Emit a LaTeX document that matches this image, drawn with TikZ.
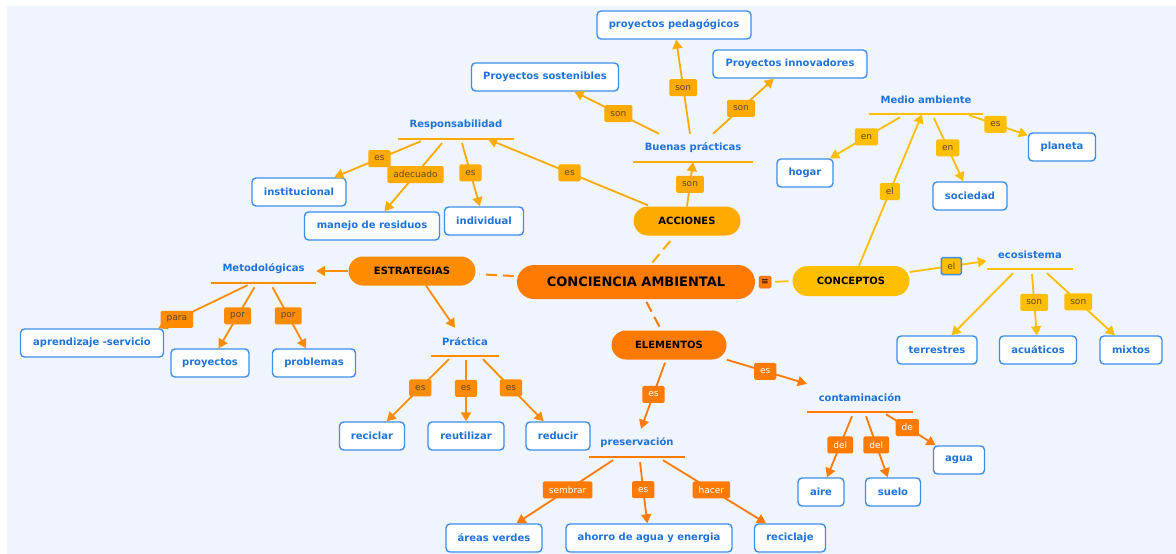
\documentclass[tikz,border=0pt]{standalone}
\usepackage{fontspec}
\setmainfont{DejaVu Sans}
\usetikzlibrary{arrows.meta}
\definecolor{bg}{HTML}{F0F4FD}
\definecolor{cblue}{HTML}{3D8EE8}
\definecolor{tblue}{HTML}{1F72D8}
\definecolor{cAcc}{HTML}{FFAA00}
\definecolor{cCon}{HTML}{FFBE00}
\definecolor{cEst}{HTML}{FF8C00}
\definecolor{cEle}{HTML}{FF7A00}
\definecolor{labtxt}{HTML}{5E4A28}
\tikzset{
  concept/.style={draw=cblue, line width=1.4pt, fill=white, rounded corners=4pt,
    font=\bfseries\fontsize{10}{12}\selectfont, text=tblue, minimum height=28pt, inner sep=2pt},
  header/.style={font=\bfseries\fontsize{10}{12}\selectfont, text=tblue, minimum height=28pt, inner sep=0pt},
  pill/.style={fill=#1, rounded corners=14.5pt, font=\bfseries\fontsize{10}{12}\selectfont,
    text=black, minimum height=29pt, inner sep=2pt},
  lab/.style={fill=#1, rounded corners=1.5pt, font=\fontsize{9}{10}\selectfont, text=labtxt,
    minimum height=17pt, inner xsep=6pt, inner ysep=0pt},
  wlab/.style={lab=#1, text=white},
  arr/.style={draw=#1, line width=1.8pt, -{Triangle[length=9pt,width=10pt]}},
  dashlink/.style={draw=#1, line width=2pt, dash pattern=on 11pt off 6pt, shorten <=3pt, shorten >=4pt},
  uline/.style={draw=#1, line width=1.6pt},
}
\begin{document}
\begin{tikzpicture}[x=1pt,y=-1pt]
\useasboundingbox (0,0) rectangle (1176,554);
\fill[white] (0,0) rectangle (1176,554);
\fill[bg] (7,6) rectangle (1176,554);

% main nodes
\node[pill=cEle, minimum width=238pt, minimum height=34pt, rounded corners=17pt,
      font=\bfseries\fontsize{13}{15}\selectfont] (cen) at (636,282) {CONCIENCIA AMBIENTAL};
\node[pill=cAcc, minimum width=107pt] (acc) at (687,221) {ACCIONES};
\node[pill=cEst, minimum width=127pt] (est) at (412,271) {ESTRATEGIAS};
\node[pill=cCon, minimum width=117pt, minimum height=30pt, rounded corners=15pt] (conc) at (851,281) {CONCEPTOS};
\node[pill=cEle, minimum width=115pt] (ele) at (669,345) {ELEMENTOS};
\node[fill=cEle, draw=cEle!85!black, line width=.5pt, rounded corners=1.5pt, minimum width=12pt,
      minimum height=12pt, inner sep=0pt, font=\fontsize{9}{9}\selectfont] (menu) at (765,282) {≡};

% headers
\node[header, minimum width=120pt] (buenas) at (693,148) {Buenas prácticas};
\node[header, minimum width=116pt] (resp) at (456,125) {Responsabilidad};
\node[header, minimum width=114pt] (medio) at (926,100) {Medio ambiente};
\node[header, minimum width=86pt] (ecosis) at (1030,255) {ecosistema};
\node[header, minimum width=105pt] (metod) at (263.5,269) {Metodológicas};
\node[header, minimum width=68pt] (practica) at (465,342) {Práctica};
\node[header, minimum width=95pt] (preserv) at (637,443) {preservación};
\node[header, minimum width=106pt] (contam) at (860,398) {contaminación};
\draw[uline=cAcc] (buenas.south west) -- (buenas.south east);
\draw[uline=cAcc] (resp.south west) -- (resp.south east);
\draw[uline=cCon] (medio.south west) -- (medio.south east);
\draw[uline=cCon] (ecosis.south west) -- (ecosis.south east);
\draw[uline=cEst] (metod.south west) -- (metod.south east);
\draw[uline=cEst] (practica.south west) -- (practica.south east);
\draw[uline=cEle] (preserv.south west) -- (preserv.south east);
\draw[uline=cEle] (contam.south west) -- (contam.south east);

% concept boxes
\node[concept, minimum width=154pt] (pedag) at (674,25) {proyectos pedagógicos};
\node[concept, minimum width=147pt] (sost) at (545,77) {Proyectos sostenibles};
\node[concept, minimum width=154pt] (innov) at (790,64) {Proyectos innovadores};
\node[concept, minimum width=94pt] (instit) at (299,192) {institucional};
\node[concept, minimum width=135pt] (manejo) at (372,226) {manejo de residuos};
\node[concept, minimum width=79pt] (indiv) at (484,221) {individual};
\node[concept, minimum width=56pt] (hogar) at (805,173) {hogar};
\node[concept, minimum width=74pt] (socie) at (970,196) {sociedad};
\node[concept, minimum width=67pt] (planeta) at (1062,147) {planeta};
\node[concept, minimum width=80pt] (terr) at (937,350) {terrestres};
\node[concept, minimum width=77pt] (acua) at (1038,350) {acuáticos};
\node[concept, minimum width=62pt] (mixtos) at (1131,350) {mixtos};
\node[concept, minimum width=143pt] (aprend) at (92,343) {aprendizaje -servicio};
\node[concept, minimum width=78pt] (proy) at (210,363) {proyectos};
\node[concept, minimum width=83pt] (probl) at (314,363) {problemas};
\node[concept, minimum width=65pt] (recic) at (372,436) {reciclar};
\node[concept, minimum width=76pt] (reuti) at (466,436) {reutilizar};
\node[concept, minimum width=64pt] (reduc) at (558,436) {reducir};
\node[concept, minimum width=96pt] (areas) at (494,538) {áreas verdes};
\node[concept, minimum width=166pt] (ahorro) at (649,538) {ahorro de agua y energia};
\node[concept, minimum width=71pt] (recicla) at (790,538) {reciclaje};
\node[concept, minimum width=46pt] (aire) at (821,492) {aire};
\node[concept, minimum width=55pt] (suelo) at (893,492) {suelo};
\node[concept, minimum width=51pt] (agua) at (959,460) {agua};

% dashed links from centre
\draw[dashlink=cAcc] (cen) -- (acc);
\draw[dashlink=cEst] (cen) -- (est);
\draw[dashlink=cEle] (cen) -- (ele);
\draw[cCon, line width=1.8pt, shorten <=4pt, shorten >=4pt] (menu.east) -- (conc.west);

% ACCIONES branch
\draw[arr=cAcc] (acc.north) -- node[lab=cAcc] (l01) {son} (buenas.south);
\draw[arr=cAcc] ([xshift=-34pt]buenas.north) -- node[lab=cAcc, pos=.48] (l02) {son} (sost);
\draw[arr=cAcc] ([xshift=-3pt]buenas.north) -- node[lab=cAcc, pos=.49] (l03) {son} (pedag);
\draw[arr=cAcc] ([xshift=20pt]buenas.north) -- node[lab=cAcc, pos=.46] (l04) {son} (innov);
\draw[arr=cAcc] ([xshift=-39pt,yshift=1pt]acc.north) -- node[lab=cAcc, pos=.49] (l05) {es} ([xshift=32pt]resp.south);
\draw[arr=cAcc] ([xshift=-35pt,yshift=-2pt]resp.south) -- node[lab=cAcc, pos=.48] (l06) {es} (instit);
\draw[arr=cAcc] ([xshift=-14pt,yshift=-4pt]resp.south) -- node[lab=cAcc, pos=.46] (l07) {adecuado} (manejo);
\draw[arr=cAcc] ([xshift=6pt,yshift=-4pt]resp.south) -- node[lab=cAcc, pos=.47] (l08) {es} (indiv);

% CONCEPTOS branch
\draw[arr=cCon] ([xshift=8pt]conc.north) -- node[lab=cCon, pos=.49] (l09) {el} ([xshift=-4pt]medio.south);
\draw[arr=cCon] ([yshift=9pt]conc.east) -- node[lab=cCon, draw=cblue, line width=1.5pt, pos=.54] (l10) {el} ([yshift=-6pt]ecosis.west);
\draw[arr=cCon] ([xshift=-26pt,yshift=-3pt]medio.south) -- node[lab=cCon, pos=.48] (l11) {en} (hogar);
\draw[arr=cCon] ([xshift=8pt,yshift=-4pt]medio.south) -- node[lab=cCon, pos=.47] (l12) {en} (socie);
\draw[arr=cCon] ([xshift=43pt,yshift=-1pt]medio.south) -- node[lab=cCon, pos=.45] (l13) {es} (planeta);
\draw[arr=cCon] ([xshift=-17pt,yshift=-4pt]ecosis.south) -- (terr);
\draw[arr=cCon] ([xshift=2pt,yshift=-5pt]ecosis.south) -- node[lab=cCon, pos=.46] (l14) {son} (acua);
\draw[arr=cCon] ([xshift=17pt,yshift=-4pt]ecosis.south) -- node[lab=cCon, pos=.46] (l15) {son} (mixtos);

% ESTRATEGIAS branch
\draw[arr=cEst] (est.west) -- (est.west -| metod.east);
\draw[arr=cEst] ([xshift=14pt]est.south) -- ([xshift=-10pt]practica.north);
\draw[arr=cEst] ([xshift=-16pt,yshift=-2pt]metod.south) -- node[lab=cEst, pos=.79] (l16) {para} ([xshift=-6pt]aprend.north east);
\draw[arr=cEst] ([xshift=-9pt,yshift=-4pt]metod.south) -- node[lab=cEst, pos=.47] (l17) {por} (proy);
\draw[arr=cEst] ([xshift=9pt,yshift=-4pt]metod.south) -- node[lab=cEst, pos=.47] (l18) {por} (probl);
\draw[arr=cEst] ([xshift=-16pt,yshift=-3pt]practica.south) -- node[lab=cEst, pos=.46] (l19) {es} (recic);
\draw[arr=cEst] ([xshift=1pt,yshift=-4pt]practica.south) -- node[lab=cEst, pos=.46] (l20) {es} (reuti);
\draw[arr=cEst] ([xshift=18pt,yshift=-3pt]practica.south) -- node[lab=cEst, pos=.46] (l21) {es} (reduc);

% ELEMENTOS branch
\draw[arr=cEle] ([xshift=-4pt,yshift=-3pt]ele.south) -- node[wlab=cEle, pos=.48] (l22) {es} ([xshift=4pt]preserv.north);
\draw[arr=cEle] (ele.south east) -- node[wlab=cEle, pos=.48] (l23) {es} (contam.north west);
\draw[arr=cEle] ([xshift=-24pt,yshift=-3pt]preserv.south) -- node[wlab=cEle, pos=.47] (l24) {sembrar} (areas);
\draw[arr=cEle] ([xshift=3pt,yshift=-5pt]preserv.south) -- node[wlab=cEle, pos=.45] (l25) {es} (ahorro);
\draw[arr=cEle] ([xshift=26pt,yshift=-3pt]preserv.south) -- node[wlab=cEle, pos=.47] (l26) {hacer} (recicla);
\draw[arr=cEle] ([xshift=-8pt,yshift=-4pt]contam.south) -- node[wlab=cEle, pos=.47] (l27) {del} (aire);
\draw[arr=cEle] ([xshift=6pt,yshift=-4pt]contam.south) -- node[wlab=cEle, pos=.47] (l28) {del} (suelo);
\draw[arr=cEle] ([xshift=26pt,yshift=-2pt]contam.south) -- node[wlab=cEle, pos=.43] (l29) {de} (agua);
\end{tikzpicture}
\end{document}
